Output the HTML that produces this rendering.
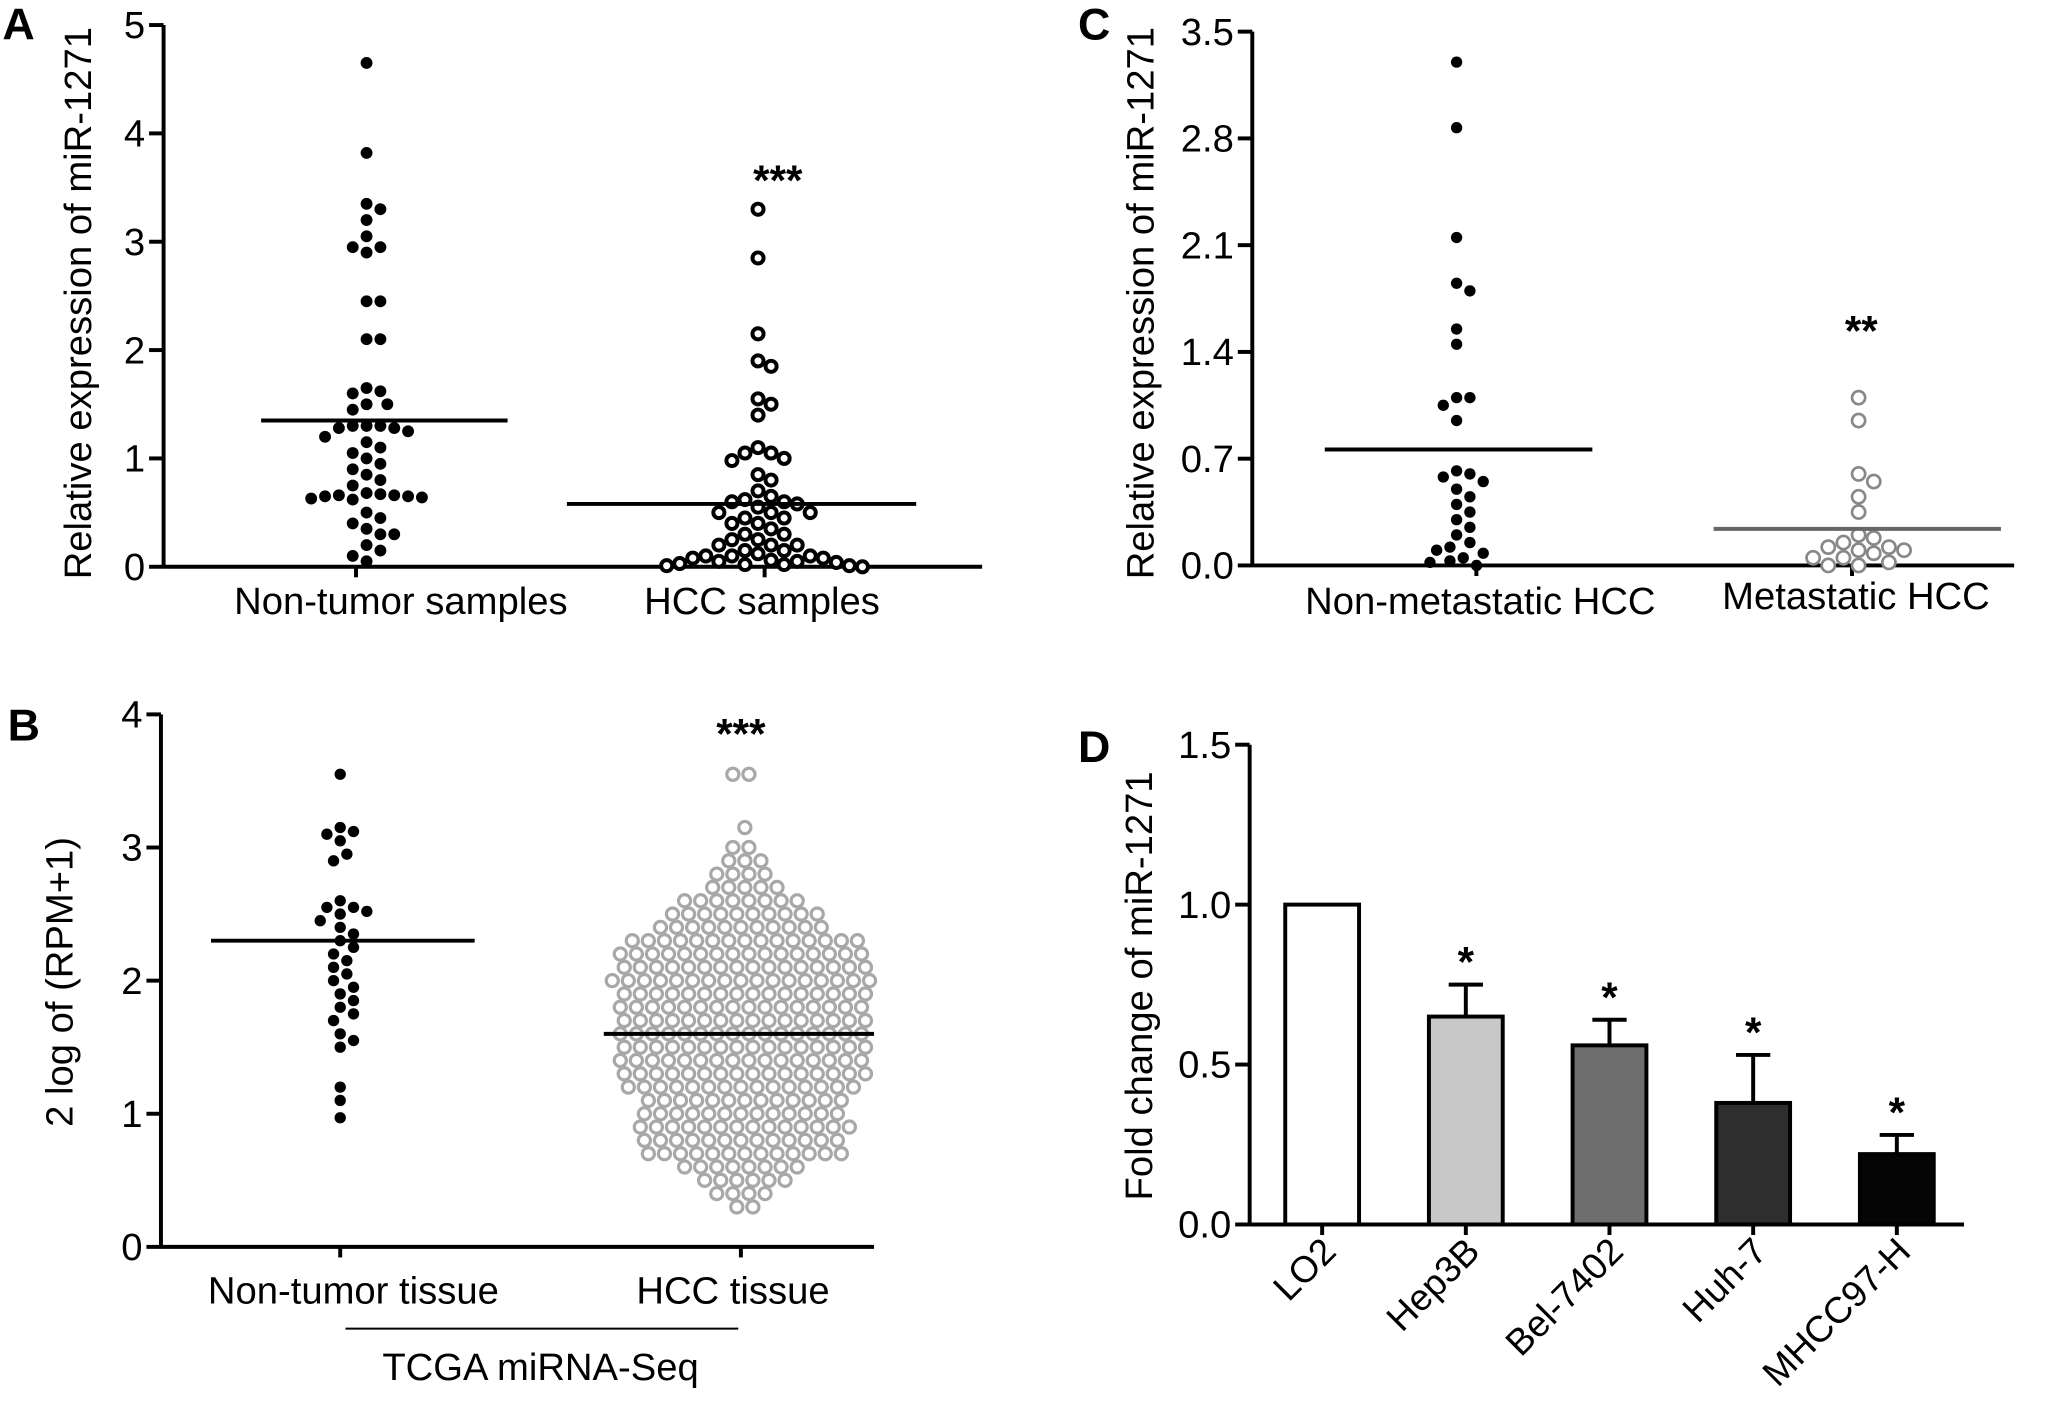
<!DOCTYPE html>
<html><head><meta charset="utf-8">
<style>
html,body{margin:0;padding:0;background:#fff;}
svg{display:block;font-family:"Liberation Sans",Arial,sans-serif;}
</style></head>
<body>
<svg id="fig" width="2067" height="1409" viewBox="0 0 1568 1069" xmlns="http://www.w3.org/2000/svg"></svg>
<script>
// ---- Data ----
const aNonTumor=[4.65,3.82,3.35,3.3,3.2,3.05,2.95,2.95,2.9,2.45,2.45,2.1,2.1,1.65,1.62,1.6,1.5,1.5,1.45,1.3,1.3,1.3,1.28,1.28,1.25,1.2,1.15,1.1,1.05,1.0,0.95,0.9,0.85,0.8,0.75,0.68,0.67,0.66,0.66,0.65,0.65,0.64,0.63,0.62,0.5,0.45,0.4,0.35,0.3,0.3,0.2,0.15,0.1,0.05];
const aHCC=[3.3,2.85,2.15,1.9,1.85,1.55,1.5,1.4,1.1,1.05,1.05,1.0,0.98,0.85,0.8,0.7,0.65,0.62,0.6,0.6,0.58,0.55,0.5,0.5,0.5,0.45,0.45,0.4,0.4,0.35,0.3,0.3,0.25,0.25,0.2,0.2,0.2,0.15,0.15,0.12,0.1,0.1,0.1,0.08,0.08,0.06,0.05,0.05,0.04,0.03,0.02,0.02,0.01,0.01,0];
const aMeans=[1.35,0.58];
const cNonMet=[3.3,2.87,2.15,1.85,1.8,1.55,1.45,1.1,1.1,1.05,0.95,0.62,0.6,0.58,0.55,0.5,0.45,0.4,0.35,0.3,0.25,0.2,0.15,0.12,0.1,0.08,0.05,0.03,0.02,0];
const cMet=[1.1,0.95,0.6,0.55,0.45,0.35,0.2,0.18,0.15,0.12,0.12,0.1,0.1,0.08,0.05,0.05,0.02,0,0];
const cMeans=[0.76,0.24];
const bNonTumor=[3.55,3.15,3.12,3.1,3.05,2.95,2.9,2.6,2.55,2.55,2.52,2.5,2.45,2.4,2.35,2.3,2.25,2.2,2.15,2.1,2.05,2.0,1.95,1.9,1.85,1.8,1.75,1.7,1.6,1.55,1.5,1.2,1.1,0.97];
const bHCCLevels=[3.55,3.15,3.0,2.9,2.8,2.7,2.6,2.5,2.4,2.3,2.2,2.1,2.0,1.9,1.8,1.7,1.6,1.5,1.4,1.3,1.2,1.1,1.0,0.9,0.8,0.7,0.6,0.5,0.4,0.3];
const bHCCCounts=[2,1,2,3,4,5,8,10,11,15,16,16,17,16,16,16,16,16,16,16,15,13,13,14,13,13,8,6,4,2];
const bMeans=[2.3,1.6];
const dCats=["LO2","Hep3B","Bel-7402","Huh-7","MHCC97-H"];
const dValues=[1.0,0.65,0.56,0.38,0.22];
const dErrors=[0,0.1,0.08,0.15,0.06];
const dColors=["#ffffff","#c8c8c8","#6e6e6e","#2e2e2e","#050505"];

const svg=document.getElementById('fig');
const NS='http://www.w3.org/2000/svg';
function el(tag,attrs,parent,text){const e=document.createElementNS(NS,tag);for(const k in attrs)e.setAttribute(k,attrs[k]);if(text!==undefined)e.textContent=text;(parent||svg).appendChild(e);return e;}
function grp(name){const g=el('g',{});return g;}

function yAxis(g,x,y0,yTop,ticks,fmt,scale){
  el('line',{x1:x,y1:y0+1,x2:x,y2:yTop,stroke:'#000','stroke-width':3},g);
  ticks.forEach(t=>{const y=scale(t);
    el('line',{x1:x-11,y1:y,x2:x,y2:y,stroke:'#000','stroke-width':3},g);
    const tx=el('text',{x:x-14,y:y+10,'text-anchor':'end','font-size':29},g,fmt(t));
    
  });
}
function swarm(g,vals,cx,scale,r,style,name){
  const placed=[];const d=2*r+1.5;
  [...vals].sort((a,b)=>b-a).forEach(v=>{
    const y=scale(v);let off=0;
    for(let k=0;k<60;k++){
      const cand=k===0?0:(k%2?1:-1)*Math.ceil(k/2)*d*0.5;
      if(placed.every(p=>(p.x-cand)**2+(p.y-y)**2>=d*d)){off=cand;break;}
    }
    placed.push({x:off,y:y});
    const c=el('circle',Object.assign({cx:cx+off,cy:y,r:r},style),g);
    
    
  });
}
function meanLine(g,x1,x2,y,color){const l=el('line',{x1:x1,x2:x2,y1:y,y2:y,stroke:color,'stroke-width':3},g);
  }
function label(g,x,y,txt,size,name,extra){const t=el('text',Object.assign({x:x,y:y,'text-anchor':'middle','font-size':size},extra||{}),g,txt);
  return t;}

// ---- Panel A ----
(function(){
  const g=grp('panel-a');
  const y0=430,top=19,max=5,ax=124;
  const s=v=>y0-(v/max)*(y0-top);
  yAxis(g,ax,y0,top,[0,1,2,3,4,5],t=>String(t),s);
  el('line',{x1:ax,y1:y0,x2:745,y2:y0,stroke:'#000','stroke-width':3},g);
  [270,580].forEach(x=>el('line',{x1:x,y1:y0,x2:x,y2:y0+8,stroke:'#000','stroke-width':3},g));
  swarm(g,aNonTumor,278,s,4.5,{fill:'#000'},'point-non-tumor');
  swarm(g,aHCC,575,s,4.2,{fill:'#fff',stroke:'#000','stroke-width':3},'point-hcc');
  meanLine(g,198,385,s(aMeans[0]),'#000');
  meanLine(g,430,695,s(aMeans[1]),'#000');
  label(g,304,466,'Non-tumor samples',29,'x-category-label');
  label(g,578,466,'HCC samples',29,'x-category-label');
  label(g,590,148,'***',32,'significance-stars',{'font-weight':'bold'});
  label(g,0,0,'Relative expression of miR-1271',29,'y-axis-title',{transform:'translate(69,230) rotate(-90)'});
  label(g,14,30,'A',34,'panel-label',{'font-weight':'bold'});
})();

// ---- Panel C ----
(function(){
  const g=grp('panel-c');
  const y0=429,top=24,max=3.5,ax=950;
  const s=v=>y0-(v/max)*(y0-top);
  yAxis(g,ax,y0,top,[0,0.7,1.4,2.1,2.8,3.5],t=>t.toFixed(1),s);
  el('line',{x1:ax,y1:y0,x2:1528,y2:y0,stroke:'#000','stroke-width':3},g);
  [1120,1405].forEach(x=>el('line',{x1:x,y1:y0,x2:x,y2:y0+8,stroke:'#000','stroke-width':3},g));
  swarm(g,cNonMet,1105,s,4.3,{fill:'#000'},'point-non-metastatic');
  swarm(g,cMet,1410,s,5,{fill:'#fff',stroke:'#888','stroke-width':2},'point-metastatic');
  meanLine(g,1005,1208,s(cMeans[0]),'#000');
  meanLine(g,1300,1518,s(cMeans[1]),'#666');
  label(g,1123,466,'Non-metastatic HCC',29,'x-category-label');
  label(g,1408,462,'Metastatic HCC',29,'x-category-label');
  label(g,1412,262,'**',32,'significance-stars',{'font-weight':'bold'});
  label(g,0,0,'Relative expression of miR-1271',29,'y-axis-title',{transform:'translate(875,230) rotate(-90)'});
  label(g,830,30,'C',34,'panel-label',{'font-weight':'bold'});
})();

// ---- Panel B ----
(function(){
  const g=grp('panel-b');
  const y0=946,top=542,max=4,ax=122;
  const s=v=>y0-(v/max)*(y0-top);
  yAxis(g,ax,y0,top,[0,1,2,3,4],t=>String(t),s);
  el('line',{x1:ax,y1:y0,x2:663,y2:y0,stroke:'#000','stroke-width':3},g);
  [258,562].forEach(x=>el('line',{x1:x,y1:y0,x2:x,y2:y0+8,stroke:'#000','stroke-width':3},g));
  swarm(g,bNonTumor,258,s,4.3,{fill:'#000'},'point-non-tumor-tissue');
  const sp=12.2;
  bHCCLevels.forEach((lv,i)=>{const n=bHCCCounts[i];
    for(let j=0;j<n;j++){
      const x=562+(j-(n-1)/2)*sp+((i%2)?3:0);
      const c=el('circle',{cx:x,cy:s(lv),r:4.6,fill:'#fff',stroke:'#a8a8a8','stroke-width':2.4},g);
      
      
    }});
  meanLine(g,160,360,s(bMeans[0]),'#000');
  meanLine(g,458,663,s(bMeans[1]),'#000');
  label(g,268,989,'Non-tumor tissue',29,'x-category-label');
  label(g,556,989,'HCC tissue',29,'x-category-label');
  el('line',{x1:262,y1:1008,x2:560,y2:1008,stroke:'#000','stroke-width':1.5},g);
  label(g,410,1047,'TCGA miRNA-Seq',29,'x-group-label');
  label(g,562,568,'***',32,'significance-stars',{'font-weight':'bold'});
  label(g,0,0,'2 log of (RPM+1)',29,'y-axis-title',{transform:'translate(55,745) rotate(-90)'});
  label(g,18,562,'B',34,'panel-label',{'font-weight':'bold'});
})();

// ---- Panel D ----
(function(){
  const g=grp('panel-d');
  const y0=929,top=565,max=1.5,ax=948;
  const s=v=>y0-(v/max)*(y0-top);
  yAxis(g,ax,y0,top,[0,0.5,1.0,1.5],t=>t.toFixed(1),s);
  el('line',{x1:ax,y1:y0,x2:1490,y2:y0,stroke:'#000','stroke-width':3},g);
  const xc=i=>1003+i*109, bw=56;
  dCats.forEach((c,i)=>{
    const x=xc(i);
    if(dErrors[i]>0){
      el('line',{x1:x,x2:x,y1:s(dValues[i]),y2:s(dValues[i]+dErrors[i]),stroke:'#000','stroke-width':3},g);
      el('line',{x1:x-13,x2:x+13,y1:s(dValues[i]+dErrors[i]),y2:s(dValues[i]+dErrors[i]),stroke:'#000','stroke-width':3},g);
      label(g,x,s(dValues[i]+dErrors[i])-6,'*',32,'significance-star',{'font-weight':'bold'});
    }
    const r=el('rect',{x:x-bw/2,y:s(dValues[i]),width:bw,height:y0-s(dValues[i]),fill:dColors[i],stroke:'#000','stroke-width':3},g);
    
    
    el('line',{x1:x,y1:y0,x2:x,y2:y0+8,stroke:'#000','stroke-width':3},g);
    label(g,0,0,c,28,'x-tick-label',{'text-anchor':'end',transform:`translate(${x+12},${y0+22}) rotate(-45)`});
  });
  label(g,0,0,'Fold change of miR-1271',29,'y-axis-title',{transform:'translate(874,748) rotate(-90)'});
  label(g,830,578,'D',34,'panel-label',{'font-weight':'bold'});
})();
</script>
</body></html>
